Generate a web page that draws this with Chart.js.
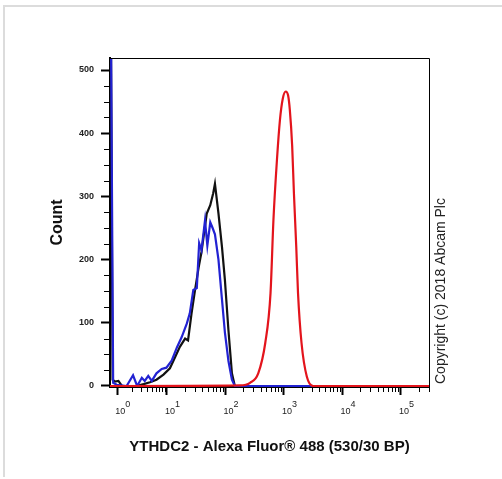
<!DOCTYPE html>
<html>
<head><meta charset="utf-8"><title>YTHDC2 - Alexa Fluor 488</title>
<script src="https://cdn.jsdelivr.net/npm/chart.js"></script>
<style>
  body{margin:0;background:#fff;font-family:"Liberation Sans",Arial,sans-serif;}
  #frame{position:absolute;left:3px;top:5px;width:499px;height:470px;border-left:2px solid #dcdcdc;border-top:2px solid #dcdcdc;}
  #wrap{position:absolute;left:0;top:0;width:502px;height:479px;}
</style>
</head>
<body>
<div id="frame"></div>
<div id="wrap"><canvas id="histo" width="502" height="479"></canvas></div>
<script>
// x is in display decades (biexponential axis), y is event count
const xBlack = [0.04,0.07,0.11,0.17,0.23,0.48,0.60,0.71,0.82,0.94,1.05,1.14,1.22,1.31,1.36,1.42,1.48,1.54,1.59,1.68,1.74,1.79,1.82,1.88,1.94,1.99,2.05,2.11,2.16,5.48];
const yBlack = [600,10,7,8,0,0,3,6,10,18,28,46,62,75,72,115,152,187,212,273,286,305,320,273,220,168,89,20,0,0];

const xBlue = [0.04,0.08,0.14,0.31,0.42,0.49,0.57,0.62,0.68,0.74,0.82,0.91,0.99,1.08,1.17,1.25,1.34,1.39,1.45,1.51,1.55,1.59,1.65,1.69,1.74,1.78,1.82,1.88,1.94,1.99,2.05,2.11,2.16,5.48];
const yBlue = [600,5,2,0,17,0,13,8,16,8,20,27,29,40,61,77,99,115,152,155,226,215,262,222,259,250,240,200,137,85,40,10,0,0];

const xRed = [0.026,2.25,2.42,2.56,2.68,2.77,2.82,2.88,2.93,2.98,3.03,3.07,3.10,3.14,3.17,3.21,3.24,3.30,3.39,3.50,5.48];
const yRed = [0,1,5,20,68,147,263,358,420,455,466,460,437,380,305,220,147,68,15,0,0];

const xTickVals = [0.15,1,2,3,4,5];
const xTickExps = ['0','1','2','3','4','5'];
const yTickVals = [0,100,200,300,400,500];

function pts(xs, ys) { return xs.map((x, i) => ({x: x, y: ys[i]})); }

// minor tick marks, frame lines and copyright note
const extras = {
  id: 'extras',
  afterDraw(chart) {
    const ctx = chart.ctx, a = chart.chartArea;
    const xs = chart.scales.x, ys = chart.scales.y;
    ctx.save();
    ctx.strokeStyle = '#000';
    ctx.lineWidth = 1;
    ctx.beginPath();
    ctx.moveTo(a.left, a.top + 0.5); ctx.lineTo(a.right + 0.5, a.top + 0.5);
    ctx.lineTo(a.right + 0.5, a.bottom);
    ctx.stroke();

    ctx.beginPath();
    for (let v = 25; v < 519; v += 25) {
      if (v % 100 === 0) continue;
      const py = Math.round(ys.getPixelForValue(v)) + 0.5;
      ctx.moveTo(a.left - 6, py); ctx.lineTo(a.left, py);
    }
    for (let d = 0; d < 6; d++) {
      const start = xTickVals[d], span = d === 0 ? 1 - xTickVals[0] : 1;
      for (let k = 2; k <= 9; k++) {
        const v = start + Math.log10(k) * span;
        if (v > xs.max) break;
        const px = Math.round(xs.getPixelForValue(v)) + 0.5;
        ctx.moveTo(px, a.bottom); ctx.lineTo(px, a.bottom + 5);
      }
    }
    ctx.stroke();

    ctx.translate(441, 384);
    ctx.rotate(-Math.PI / 2);
    ctx.fillStyle = '#222';
    ctx.font = '14px "Liberation Sans", Arial, sans-serif';
    ctx.textAlign = 'left';
    ctx.textBaseline = 'middle';
    ctx.fillText('Copyright (c) 2018 Abcam Plc', 0, 0);
    ctx.restore();
  }
};

new Chart(document.getElementById('histo'), {
  type: 'line',
  data: {
    datasets: [
      { data: pts(xRed, yRed), borderColor: '#e3141c', borderWidth: 2.2, cubicInterpolationMode: 'monotone' },
      { data: pts(xBlue, yBlue), borderColor: '#2222d2', borderWidth: 2.2 },
      { data: pts(xBlack, yBlack), borderColor: '#111', borderWidth: 2.2 }
    ]
  },
  options: {
    responsive: false,
    animation: false,
    layout: { padding: { left: 0, top: 58, right: 73, bottom: 0 } },
    elements: { point: { radius: 0 }, line: { tension: 0 } },
    plugins: { legend: { display: false }, tooltip: { enabled: false } },
    scales: {
      x: {
        type: 'linear', min: 0.026, max: 5.479,
        afterBuildTicks: s => { s.ticks = xTickVals.map(v => ({value: v})); },
        afterFit: s => { s.height = 92; },
        ticks: { autoSkip: false, maxRotation: 0, padding: 6, labelOffset: 3, color: '#222',
                 font: { size: 9, lineHeight: 0.75, family: '"Liberation Sans", Arial, sans-serif' },
                 callback: (v, i) => ['      ' + xTickExps[i], '10'] },
        grid: { drawOnChartArea: false, drawTicks: true, tickLength: 8, tickWidth: 2, tickColor: '#000' },
        border: { color: '#000', width: 2 },
        title: { display: true, text: 'YTHDC2 - Alexa Fluor\u00ae 488 (530/30 BP)', color: '#111',
                 font: { size: 15, weight: 'bold', family: '"Liberation Sans", Arial, sans-serif' },
                 padding: { top: 0, bottom: 23 } }
      },
      y: {
        min: -1.6, max: 519,
        afterBuildTicks: s => { s.ticks = yTickVals.map(v => ({value: v})); },
        afterFit: s => { s.width = 110; },
        ticks: { padding: 7, color: '#222',
                 font: { size: 9, weight: 'bold', family: '"Liberation Sans", Arial, sans-serif' } },
        grid: { drawOnChartArea: false, drawTicks: true, tickLength: 9, tickWidth: 2, tickColor: '#000' },
        border: { color: '#000', width: 2 },
        title: { display: true, text: 'Count', color: '#111',
                 font: { size: 16, weight: 'bold', family: '"Liberation Sans", Arial, sans-serif' },
                 padding: { top: 48, bottom: 0 } }
      }
    }
  },
  plugins: [extras]
});
</script>
</body>
</html>
